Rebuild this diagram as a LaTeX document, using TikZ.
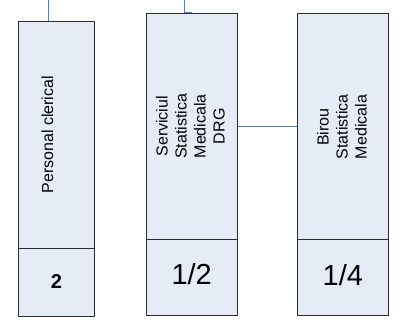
\documentclass[tikz,border=0pt]{standalone}
\usepackage{fontspec}
\setmainfont{Liberation Sans}
\definecolor{boxfill}{RGB}{230,236,246}
\definecolor{boxline}{RGB}{45,45,45}
\definecolor{conncol}{RGB}{74,126,222}
\begin{document}
\begin{tikzpicture}[x=1pt,y=-1pt,
  part/.style={draw=boxline, fill=boxfill, line width=1pt, inner sep=0pt},
  vtext/.style={rotate=90, align=center, inner sep=0pt, font=\fontsize{16}{19}\selectfont},
  numtext/.style={inner sep=0pt, font=\fontsize{29}{33}\selectfont},
  connector/.style={draw=conncol, line width=0.9pt}]
\useasboundingbox (0,0) rectangle (399,324);
% box 1
\node[part, minimum width=76.2pt, minimum height=226.5pt] (b1) at (56.4,134.75) {};
\node[part, minimum width=76.2pt, minimum height=68pt] (n1) at (56.4,282) {};
\node[vtext] (t1) at (47.5,134.75) {Personal clerical};
\node[inner sep=0pt, font=\fontsize{20}{24}\selectfont\bfseries] (m1) at (n1.center) {2};
% box 2
\node[part, minimum width=90.6pt, minimum height=226pt] (b2) at (192,126.3) {};
\node[part, minimum width=90.6pt, minimum height=76pt] (n2) at (192,277.3) {};
\node[vtext] (t2) at (190.5,126.3) {Serviciul\\Statistica\\Medicala\\DRG};
\node[numtext] (m2) at (191.7,274.5) {1/2};
% box 3
\node[part, minimum width=91.4pt, minimum height=226pt] (b3) at (343,126.3) {};
\node[part, minimum width=91.4pt, minimum height=76pt] (n3) at (343,277.3) {};
\node[vtext] (t3) at (342,127) {Birou\\Statistica\\Medicala};
\node[numtext] (m3) at (342.8,275) {1/4};
% connectors
\coordinate (c1) at (48.3,0);
\coordinate (c2) at (184.7,0);
\draw[connector] (c1) -- (c1 |- b1.north);
\draw[connector] (c2) -- (c2 |- b2.north) -- (b2.north);
\draw[connector] (b2.east) -- (b3.west);
\end{tikzpicture}
\end{document}
